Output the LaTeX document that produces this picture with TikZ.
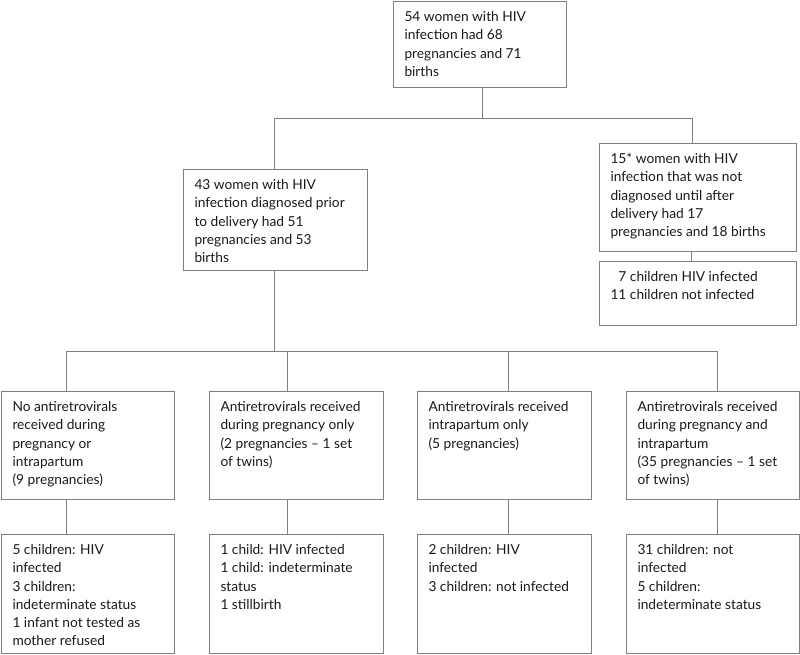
\documentclass[tikz,border=0pt]{standalone}
\usepackage{fontspec}
\setmainfont{Lato}
\newlength\px
\setlength\px{0.75pt}
\definecolor{linecol}{HTML}{808080}
\definecolor{txtcol}{HTML}{1A1A1A}
\newcommand\bt[3]{\parbox[c][#2\px][t]{#1\px}{\raggedright\rule{0pt}{20\px}#3}}
\begin{document}
\begin{tikzpicture}[x=0.75pt,y=-0.75pt,
  box/.style={draw=linecol, line width=0.75pt, inner xsep=11\px, inner ysep=0pt,
    anchor=north west, text=txtcol, font=\fontsize{10.3pt}{13.7pt}\selectfont},
  conn/.style={draw=linecol, line width=0.75pt}]
\useasboundingbox (0,0) rectangle (800,654);
% boxes
\node[box] (top) at (393,1) {\bt{151}{86}{54 women with HIV\\ infection had 68\\ pregnancies and 71\\ births}};
\node[box] (pre) at (183,169) {\bt{162}{101}{43 women with HIV\\ infection diagnosed prior\\ to delivery had 51\\ pregnancies and 53\\ births}};
\node[box] (post) at (599,143) {\bt{175}{108}{15* women with HIV\\ infection that was not\\ diagnosed until after\\ delivery had 17\\ pregnancies and 18 births}};
\node[box] (postc) at (599,261) {\bt{175}{64}{\hphantom{1}7 children HIV infected\\ 11 children not infected}};
\node[box] (b1) at (1,391) {\bt{151}{108}{No antiretrovirals\\ received during\\ pregnancy or\\ intrapartum\\ (9 pregnancies)}};
\node[box] (b2) at (209,391) {\bt{152}{108}{Antiretrovirals received\\ during pregnancy only\\ (2 pregnancies -- 1 set\\ of twins)}};
\node[box] (b3) at (417,391) {\bt{152}{108}{Antiretrovirals received\\ intrapartum only\\ (5 pregnancies)}};
\node[box] (b4) at (626,391) {\bt{151}{108}{Antiretrovirals received\\ during pregnancy and\\ intrapartum\\ (35 pregnancies -- 1 set\\ of twins)}};
\node[box] (c1) at (1,534) {\bt{151}{119}{5 children: HIV\\ infected\\ 3 children:\\ indeterminate status\\ 1 infant not tested as\\ mother refused}};
\node[box] (c2) at (209,534) {\bt{152}{119}{1 child: HIV infected\\ 1 child: indeterminate\\ status\\ 1 stillbirth}};
\node[box] (c3) at (417,534) {\bt{152}{119}{2 children: HIV\\ infected\\ 3 children: not infected}};
\node[box] (c4) at (626,534) {\bt{151}{119}{31 children: not\\ infected\\ 5 children:\\ indeterminate status}};
% junction coordinates
\coordinate (j1) at (482,118);
\coordinate (j2) at (274,351);
\coordinate (jl) at (274,118);
\coordinate (jr) at (692,118);
\coordinate (kl) at (66,351);
\coordinate (kr) at (717,351);
% connectors
\draw[conn] (top.south -| j1) -- (j1);
\draw[conn] (jl) -- (jr);
\draw[conn] (jl) -- (pre.north -| jl);
\draw[conn] (jr) -- (post.north -| jr);
\draw[conn] (post.south -| 691,0) -- (postc.north -| 691,0);
\draw[conn] (pre.south -| j2) -- (j2);
\draw[conn] (kl) -- (kr);
\foreach \n/\x in {1/66,2/287,3/508,4/717}{
  \draw[conn] (\x,351) -- (b\n.north -| \x,0);
  \draw[conn] (b\n.south -| \x,0) -- (c\n.north -| \x,0);
}
\end{tikzpicture}
\end{document}
